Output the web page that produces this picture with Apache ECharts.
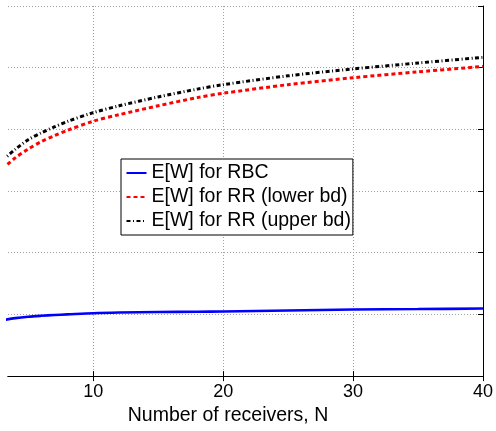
<!DOCTYPE html>
<html>
<head>
<meta charset="utf-8">
<script src="https://cdn.jsdelivr.net/npm/echarts@6/dist/echarts.min.js"></script>
<style>html,body{margin:0;padding:0;background:#fff;}#c{width:496px;height:431px;}</style>
</head>
<body>
<div id="c"></div>
<script>
const receivers = [3, 4, 5, 6, 7, 8, 10, 12, 15, 18, 20, 25, 30, 35, 40];
const rbc =      [0.905, 0.94, 0.963, 0.978, 0.99, 1.0, 1.02, 1.03, 1.038, 1.044, 1.047, 1.063, 1.079, 1.087, 1.095];
const rrLower =  [3.355, 3.538, 3.681, 3.801, 3.896, 3.984, 4.132, 4.239, 4.382, 4.515, 4.585, 4.725, 4.837, 4.932, 5.020];
const rrUpper =  [3.495, 3.676, 3.833, 3.944, 4.040, 4.127, 4.271, 4.382, 4.526, 4.652, 4.725, 4.868, 4.980, 5.076, 5.168];
const xTicks = [10, 20, 30, 40];
const names = ['E[W] for RBC', 'E[W] for RR (lower bd)', 'E[W] for RR (upper bd)'];
const xLabel = 'Number of receivers, N';

const pair = arr => receivers.map((n, i) => [n, arr[i]]);
const font = 'Liberation Sans, Arial, Helvetica, sans-serif';
const grid = { type: [1, 2], color: '#a0a0a0', width: 1 };

const chart = echarts.init(document.getElementById('c'), null, { renderer: 'canvas' });
chart.setOption({
  animation: false,
  backgroundColor: '#fff',
  grid: { left: 8, right: 12, top: 6, bottom: 48, containLabel: false },
  xAxis: [{
    type: 'value', position: 'bottom', min: 3.44, max: 40,
    name: xLabel, nameLocation: 'middle', nameGap: 23,
    nameTextStyle: { fontFamily: font, fontSize: 19.5, color: '#000', padding: [0, 35, 0, 0] },
    axisLine: { show: true, lineStyle: { color: '#000', width: 1 } },
    axisTick: { show: true, inside: true, length: 5, customValues: xTicks, lineStyle: { color: '#000' } },
    axisLabel: { show: true, customValues: xTicks, margin: 7, fontFamily: font, fontSize: 18, color: '#000' },
    splitLine: { show: true, lineStyle: grid }
  }, {
    type: 'value', position: 'top', min: 3.44, max: 40,
    axisLine: { show: true, lineStyle: { color: '#000', width: 1 } },
    axisTick: { show: true, inside: true, length: 5, customValues: xTicks, lineStyle: { color: '#000' } },
    axisLabel: { show: false },
    splitLine: { show: false }
  }],
  yAxis: [{
    type: 'value', position: 'left', min: 0, max: 6, interval: 1,
    axisLine: { show: false }, axisTick: { show: false }, axisLabel: { show: false },
    splitLine: { show: true, lineStyle: grid }
  }, {
    type: 'value', position: 'right', min: 0, max: 6, interval: 1,
    axisLine: { show: true, lineStyle: { color: '#000', width: 1 } },
    axisTick: { show: true, inside: true, length: 5, lineStyle: { color: '#000' } },
    axisLabel: { show: false }, splitLine: { show: false }
  }],
  legend: {
    orient: 'vertical', left: 121, top: 159,
    backgroundColor: '#fff', borderColor: '#000', borderWidth: 1,
    padding: [4, 2, 4, 4.5], itemGap: 4, itemWidth: 20, itemHeight: 14,
    itemStyle: { opacity: 0 },
    textStyle: { fontFamily: font, fontSize: 19.5, color: '#000', lineHeight: 20 },
    data: names
  },
  series: [{
    name: names[0], type: 'line', data: pair(rbc), symbol: 'none', smooth: 0.3, clip: true,
    lineStyle: { color: '#0000ff', width: 2.6, type: 'solid' }, itemStyle: { color: '#0000ff' }
  }, {
    name: names[1], type: 'line', data: pair(rrLower), symbol: 'none', smooth: 0.3, clip: true,
    lineStyle: { color: '#ff0000', width: 3, type: [4, 3] }, itemStyle: { color: '#ff0000' }
  }, {
    name: names[2], type: 'line', data: pair(rrUpper), symbol: 'none', smooth: 0.3, clip: true,
    lineStyle: { color: '#000', width: 3, type: [4, 2.5, 1, 2.5] }, itemStyle: { color: '#000' }
  }]
});
</script>
</body>
</html>
